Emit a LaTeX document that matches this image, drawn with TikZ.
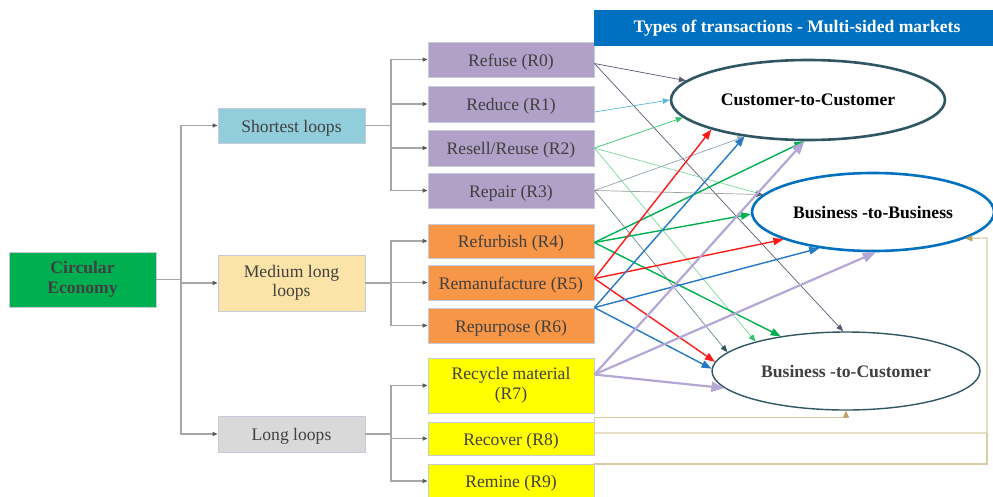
\documentclass[tikz,border=0pt]{standalone}
\usepackage{fontspec}
\setmainfont{Liberation Serif}
\usetikzlibrary{arrows.meta,shapes.geometric}

\definecolor{txt}{HTML}{404040}
\definecolor{boxline}{HTML}{C5CCD8}
\definecolor{ceGreen}{HTML}{00B050}
\definecolor{shortBlue}{HTML}{92CDDC}
\definecolor{medYellow}{HTML}{FCE4A8}
\definecolor{longGray}{HTML}{D9D9D9}
\definecolor{lav}{HTML}{B1A0C7}
\definecolor{orng}{HTML}{F79646}
\definecolor{yel}{HTML}{FFFF00}
\definecolor{treeLine}{HTML}{A6A6A6}
\definecolor{treeTip}{HTML}{595959}
\definecolor{titleBlue}{HTML}{0070C0}
\definecolor{slate}{HTML}{2F5763}
\definecolor{cZero}{HTML}{5E5872}
\definecolor{cOne}{HTML}{5DB6D4}
\definecolor{cTwo}{HTML}{33C06A}
\definecolor{cTwoL}{HTML}{7ED6A0}
\definecolor{cThreeA}{HTML}{8FA3B2}
\definecolor{cThreeB}{HTML}{A0A0A0}
\definecolor{cThreeC}{HTML}{6A8794}
\definecolor{cFour}{HTML}{00B050}
\definecolor{cFive}{HTML}{FF1A1A}
\definecolor{cSix}{HTML}{2478C8}
\definecolor{cSeven}{HTML}{B4A7D6}
\definecolor{tanLine}{HTML}{D9CCA6}
\definecolor{tanTip}{HTML}{B8A264}

\begin{document}
\begin{tikzpicture}[x=1pt,y=-1pt,
  lbl/.style={font=\fontsize{17.6}{19.5}\selectfont, text=txt},
  box/.style={lbl, draw=boxline, line width=0.8pt, inner sep=0pt, align=center,
    execute at begin node={\rule{0pt}{17.5pt}}},
  twoline/.style={execute at begin node={\rule{0pt}{21pt}}},
  rbox/.style={box, minimum width=166pt},
  lbox/.style={box, minimum width=147pt},
  oval/.style={ellipse, fill=white, inner sep=0pt,
    font=\fontsize{17.6}{19.5}\selectfont\bfseries},
  tree/.style={draw=treeLine, line width=1.1pt},
  treearr/.style={tree, -{Triangle[length=5pt,width=4pt,color=treeTip]}},
  thin/.style={line width=0.7pt, -{Triangle[length=7pt,width=5.5pt]}},
  mid/.style={line width=1.4pt, -{Triangle[length=10pt,width=7.5pt]}},
  heavy/.style={line width=2.2pt, -{Triangle[length=13pt,width=10pt]}},
  tan/.style={draw=tanLine, line width=1.2pt},
  tanarr/.style={tan, -{Triangle[length=7pt,width=6pt,color=tanTip]}}
]
\useasboundingbox (0,0) rectangle (993,496);

% ---- hierarchy on the left
\node[box, twoline, fill=ceGreen, minimum width=147pt, minimum height=55pt,
      font=\fontsize{17.6}{20.5}\selectfont\bfseries] (ce) at (82.5,279.5) {Circular\\Economy};

\node[lbox, fill=shortBlue, minimum height=35pt] (short) at (291.5,125.5) {Shortest loops};
\node[lbox, twoline, fill=medYellow, minimum height=56pt] (medium) at (291.5,283) {Medium long\\loops};
\node[lbox, fill=longGray, minimum height=36pt] (long) at (291.5,434) {Long loops};

\node[rbox, fill=lav, minimum height=35pt] (r0) at (511,59.5) {Refuse (R0)};
\node[rbox, fill=lav, minimum height=36pt] (r1) at (511,104) {Reduce (R1)};
\node[rbox, fill=lav, minimum height=36pt] (r2) at (511,148) {Resell/Reuse (R2)};
\node[rbox, fill=lav, minimum height=35pt] (r3) at (511,190.5) {Repair (R3)};

\node[rbox, fill=orng, minimum height=34pt] (r4) at (511,241) {Refurbish (R4)};
\node[rbox, fill=orng, minimum height=35pt] (r5) at (511,282.5) {Remanufacture (R5)};
\node[rbox, fill=orng, minimum height=35pt] (r6) at (511,325.5) {Repurpose (R6)};

\node[rbox, twoline, fill=yel, minimum height=55pt] (r7) at (511,385.5) {Recycle material\\(R7)};
\node[rbox, fill=yel, minimum height=33pt] (r8) at (511,438.5) {Recover (R8)};
\node[rbox, fill=yel, minimum height=34pt] (r9) at (511,481) {Remine (R9)};

\coordinate (t0) at (181,279.5);
\draw[tree] (ce.east) -- (t0);
\draw[treearr] (t0) |- (short.west);
\draw[treearr] (t0) |- (medium.west);
\draw[treearr] (t0) |- (long.west);

\coordinate (t1) at (391,125.5);
\draw[tree] (short.east) -- (t1);
\foreach \n in {r0,r1,r2,r3} \draw[treearr] (t1) |- (\n.west);

\coordinate (t2) at (391,283);
\draw[tree] (medium.east) -- (t2);
\foreach \n in {r4,r5,r6} \draw[treearr] (t2) |- (\n.west);

\coordinate (t3) at (391,434);
\draw[tree] (long.east) -- (t3);
\foreach \n in {r7,r8,r9} \draw[treearr] (t3) |- (\n.west);

% ---- transaction types
\node[fill=titleBlue, minimum width=407pt, minimum height=36pt, inner sep=0pt,
      font=\fontsize{17.6}{19.5}\selectfont\bfseries, text=white] (title) at (797,28)
      {Types of transactions - Multi-sided markets};

\node[oval, draw=slate, line width=2.6pt, minimum width=274pt, minimum height=80pt,
      text=black] (c2c) at (808,100) {Customer-to-Customer};
\node[oval, draw=titleBlue, line width=2.6pt, minimum width=242pt, minimum height=78pt,
      text=black] (b2b) at (873,212) {Business -to-Business};
\node[oval, draw=slate, line width=1.4pt, minimum width=268pt, minimum height=78pt,
      text=txt] (b2c) at (846,371) {Business -to-Customer};

% ---- R-strategy to transaction links
\draw[thin, cZero] ([yshift=-4pt]r0.east) -- (c2c.171);
\draw[thin, cZero] ([yshift=-4pt]r0.east) -- (b2c.94);

\draw[thin, cOne] ([yshift=-8pt]r1.east) -- (c2c.180);

\draw[thin, cTwo] (r2.east) -- (c2c.188);
\draw[thin, cTwoL] (r2.east) -- (b2b.171);
\draw[thin, cTwoL, -{Triangle[length=7pt,width=5.5pt,color=cTwo]}] (r2.east) -- (b2c.162);

\draw[thin, cThreeA] (r3.east) -- (c2c.210);
\draw[thin, cThreeB, -{Triangle[length=7pt,width=5.5pt,color=treeTip]}] (r3.east) -- (b2b.171);
\draw[thin, cThreeC, -{Triangle[length=7pt,width=5.5pt,color=slate]}] (r3.east) -- (b2c.171);

\draw[mid, cFour] ([yshift=-1.5pt]r4.east) -- (c2c.265);
\draw[mid, cFour] ([yshift=-1.5pt]r4.east) -- (b2b.181);
\draw[mid, cFour] ([yshift=-1.5pt]r4.east) -- (b2c.152);

\draw[mid, cFive] ([yshift=4pt]r5.east) -- (c2c.197);
\draw[mid, cFive] ([yshift=4pt]r5.east) -- (b2b.197.5);
\draw[mid, cFive] ([yshift=4pt]r5.east) -- (b2c.176);

\draw[mid, cSix] (r6.north east) -- (c2c.210);
\draw[mid, cSix] (r6.north east) -- (b2b.214);
\draw[mid, cSix] (r6.north east) -- (b2c.179.5);

\draw[heavy, cSeven] ([yshift=11pt]r7.east) -- (c2c.265);
\draw[heavy, cSeven] ([yshift=11pt]r7.east) -- (b2b.274);
\draw[heavy, cSeven] ([yshift=11pt]r7.east) -- (b2c.188);

% ---- elbow links from recover and remine
\coordinate (bendA) at (987,433);
\coordinate (bendB) at (987,238);
\draw[tanarr] ([yshift=5.5pt]r8.east) |- ([yshift=-7pt]b2c.south) -- (b2c.south);
\draw[tanarr] ([yshift=5.5pt]r8.east) -- (bendA) -- (bendB) -- (b2b.-16);
\draw[tan] ([yshift=17pt]r9.east) -| (bendA);
\end{tikzpicture}
\end{document}
